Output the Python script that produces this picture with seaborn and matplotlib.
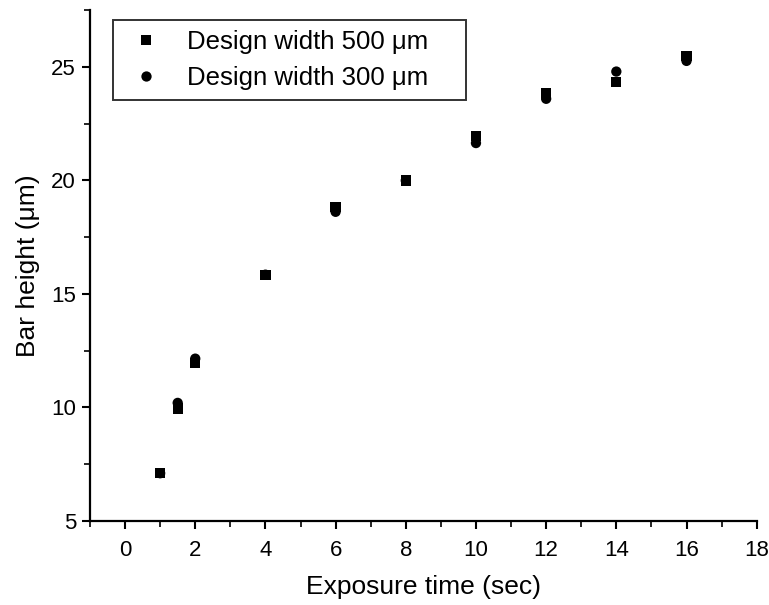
import numpy as np
import pandas as pd
import seaborn as sns
import matplotlib.pyplot as plt
from matplotlib.ticker import MultipleLocator

# exposure time (sec) and bar height (um)
exposure = [1, 1.5, 2, 4, 6, 8, 10, 12, 14, 16]
height_500 = [7.1, 9.95, 11.95, 15.85, 18.82, 20.0, 21.95, 23.85, 24.35, 25.5]
height_300 = [7.1, 10.2, 12.15, 15.85, 18.62, 20.0, 21.65, 23.6, 24.8, 25.27]
labels = ['Design width 500 \u03bcm', 'Design width 300 \u03bcm']

df = pd.DataFrame({
    'Exposure': exposure * 2,
    'Height': height_500 + height_300,
    'Design': [labels[0]] * len(exposure) + [labels[1]] * len(exposure),
})

sns.set_theme(style='ticks', rc={'text.color': 'black', 'axes.labelcolor': 'black',
                                 'xtick.color': 'black', 'ytick.color': 'black'})
plt.rcParams['font.family'] = ['Liberation Sans', 'DejaVu Sans']

fig = plt.figure(figsize=(7.69, 6.05), dpi=100)
ax = fig.add_axes([0.117, 0.139, 0.867, 0.844])

sns.scatterplot(data=df, x='Exposure', y='Height', hue='Design', style='Design',
                palette=['black', 'black'], markers=['s', 'o'], s=55,
                edgecolor='black', linewidth=0, ax=ax)

ax.set_xlim(-1, 18)
ax.set_ylim(5, 27.5)
ax.xaxis.set_major_locator(MultipleLocator(2))
ax.xaxis.set_minor_locator(MultipleLocator(1))
ax.yaxis.set_major_locator(MultipleLocator(5))
ax.yaxis.set_minor_locator(MultipleLocator(2.5))
ax.tick_params(which='major', direction='out', length=6, width=1.5, labelsize=16, color='black')
ax.tick_params(which='minor', direction='out', length=4, width=1.2, color='black')
ax.tick_params(axis='x', pad=8)
ax.tick_params(axis='y', pad=4)

for s in ['top', 'right']:
    ax.spines[s].set_visible(False)
for s in ['left', 'bottom']:
    ax.spines[s].set_linewidth(1.6)
    ax.spines[s].set_color('black')

ax.set_xlabel('Exposure time (sec)', fontsize=19, labelpad=10)
ax.set_ylabel('Bar height (\u03bcm)', fontsize=19, labelpad=8)

handles, _ = ax.get_legend_handles_labels()
leg = ax.legend(handles, [l + '    ' for l in labels],
                loc='upper left', bbox_to_anchor=(0.034, 0.98), borderaxespad=0,
                fontsize=18.5, frameon=True, fancybox=False, edgecolor='black',
                handletextpad=0.7, borderpad=0.38, labelspacing=0.45, handlelength=1.8)
leg.get_frame().set_linewidth(1.4)

fig.savefig('out.png', dpi=100)
